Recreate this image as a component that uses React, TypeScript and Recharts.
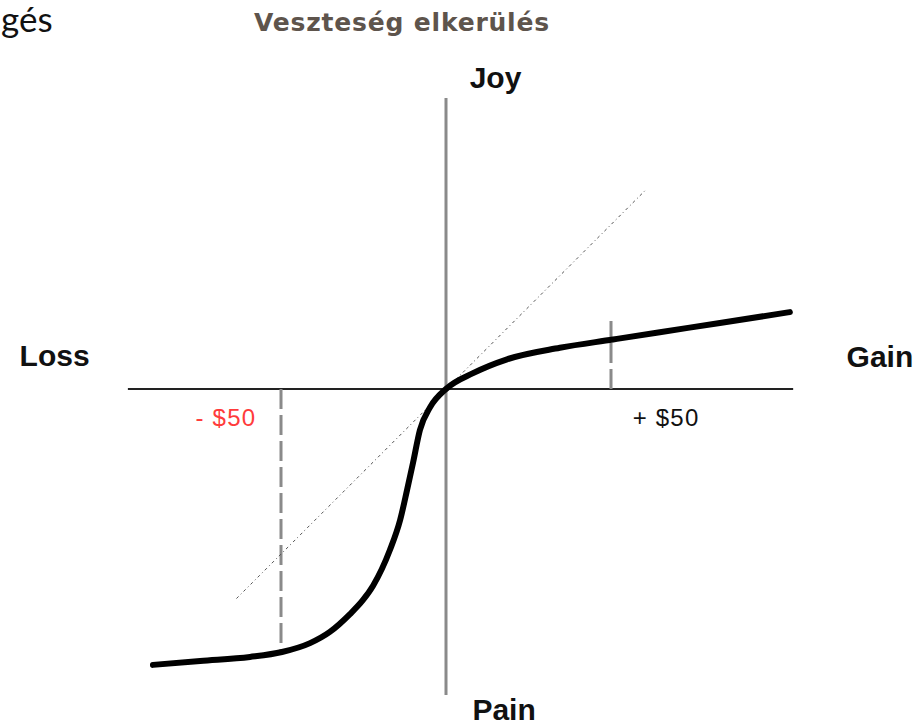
import React from 'react';
import { ComposedChart, Line, XAxis, YAxis, ReferenceLine, ReferenceDot } from 'recharts';

// units: dollars on x, "utility" on y (same scale, 3.3px per unit)
const PX = 3.3;
const X_DOMAIN: [number, number] = [-446 / PX, 475 / PX];
const Y_DOMAIN: [number, number] = [-337 / PX, 389 / PX];

const curveX = [-88.8, -74.5, -59.4, -49.7, -41.2, -35.2, -29.1, -25.2, -22.1, -17.0, -13.9, -11.8, -10.0, -7.9, -4.8, 0, 8.2, 18.5, 34.5, 50.6, 64.8, 83.0, 104.2];
const curveY = [-83.6, -82.4, -81.2, -79.7, -77.0, -73.6, -68.2, -64.0, -59.6, -48.8, -39.7, -30.6, -22.4, -12.4, -5.5, 0, 4.8, 9.0, 12.5, 15.0, 17.2, 20.0, 23.3];

const diagonalX = [-63.5, 60.3];
const diagonalY = [-63.5, 60.1];

const markers = [-50, 50];
const markerTop = [-79.7, 20.6];
const markerLabels = ['- $50', '+ $50'];
const markerColors = ['#ff3b3b', '#111111'];
const markerLabelX = [-66.7, 66.7];

const axisLabels = ['Joy', 'Pain', 'Loss', 'Gain'];
const axisLabelX = [15.0, 17.6, -118.6, 131.5];
const axisLabelY = [94.5, -97.0, 10.3, 10.0];

const curveData = curveX.map((x, i) => ({ x, y: curveY[i] }));
const diagonalData = diagonalX.map((x, i) => ({ x, y: diagonalY[i] }));

const labelFont = '"Liberation Sans", Arial, sans-serif';

export default function App() {
  return (
    <div style={{ position: 'absolute', left: 0, top: 0, width: 921, height: 726, background: '#fff', overflow: 'hidden' }}>
      <div style={{ position: 'absolute', left: 1, top: 1, lineHeight: 1, fontFamily: '"Lato", sans-serif', fontSize: 35, color: '#111' }}>gés</div>
      <div style={{ position: 'absolute', left: 0, width: 804, top: 9, lineHeight: 1.1, textAlign: 'center', fontFamily: '"DejaVu Sans", sans-serif', fontWeight: 700, fontSize: 25, letterSpacing: 0.8, color: '#5e544c' }}>
        Veszteség elkerülés
      </div>
      <ComposedChart width={921} height={726} margin={{ top: 0, right: 0, bottom: 0, left: 0 }} style={{ position: 'absolute', left: 0, top: 0 }}>
        <XAxis type="number" dataKey="x" domain={X_DOMAIN} allowDataOverflow hide />
        <YAxis type="number" dataKey="y" domain={Y_DOMAIN} allowDataOverflow hide />
        <ReferenceLine segment={[{ x: -96.4, y: 0 }, { x: 105.2, y: 0 }]} stroke="#222" strokeWidth={2} />
        <ReferenceLine segment={[{ x: 0, y: 88.2 }, { x: 0, y: -92.7 }]} stroke="#8a8a8a" strokeWidth={3} />
        {markers.map((m, i) => (
          <ReferenceLine key={m} segment={[{ x: m, y: 0 }, { x: m, y: markerTop[i] }]} stroke="#8a8a8a" strokeWidth={3} strokeDasharray="20 6" />
        ))}
        <Line data={diagonalData} dataKey="y" type="linear" stroke="#555" strokeWidth={1} strokeDasharray="3 3 1 3" dot={false} isAnimationActive={false} />
        <Line data={curveData} dataKey="y" type="monotone" stroke="#000" strokeWidth={6} strokeLinecap="round" strokeLinejoin="round" dot={false} activeDot={false} isAnimationActive={false} />
        {markers.map((m, i) => (
          <ReferenceDot key={'l' + m} x={markerLabelX[i]} y={-8.6} r={0} stroke="none"
            label={{ value: markerLabels[i], position: 'center', fill: markerColors[i], fontSize: 24, letterSpacing: 1.2, fontFamily: labelFont }} />
        ))}
        {axisLabels.map((t, i) => (
          <ReferenceDot key={t} x={axisLabelX[i]} y={axisLabelY[i]} r={0} stroke="none"
            label={{ value: t, position: 'center', fill: '#111', fontSize: 30, fontWeight: 700, fontFamily: labelFont }} />
        ))}
      </ComposedChart>
    </div>
  );
}
